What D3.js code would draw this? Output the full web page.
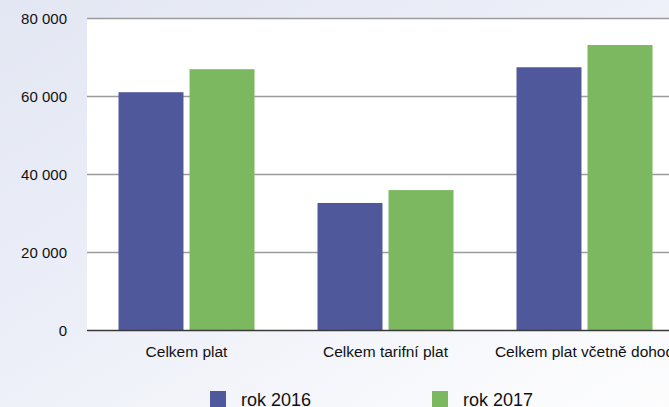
<!DOCTYPE html>
<html>
<head>
<meta charset="utf-8">
<script src="https://cdn.jsdelivr.net/npm/d3@7"></script>
<style>
  html, body { margin: 0; padding: 0; overflow: hidden; }
  body { width: 669px; height: 407px; }
</style>
</head>
<body>
<div id="wrapper"></div>
<script>
const categories = ["Celkem plat", "Celkem tarifní plat", "Celkem plat včetně dohod"];
const seriesNames = ["rok 2016", "rok 2017"];
const values2016 = [61100, 32700, 67500];
const values2017 = [67000, 36000, 73200];
const yTicks = [0, 20000, 40000, 60000, 80000];

const SERIES_COLORS = ["#50589c", "#7bb85f"];
const FONT = "'Liberation Sans', Arial, sans-serif";

const width = 669;
const height = 407;

const dimensions = {
    plotLeft: 87,
    plotTop: 18.5,
    plotBottom: 330.5,
    step: 199,
};

const svg = d3.select("#wrapper")
    .append("svg")
    .attr("width", width)
    .attr("height", height);

// background
const defs = svg.append("defs");
const grad = defs.append("linearGradient")
    .attr("id", "bg")
    .attr("x1", "0%").attr("y1", "0%")
    .attr("x2", "100%").attr("y2", "100%");
grad.append("stop").attr("offset", "0%").attr("stop-color", "#e3e7f3");
grad.append("stop").attr("offset", "45%").attr("stop-color", "#eceff8");
grad.append("stop").attr("offset", "80%").attr("stop-color", "#f8f9fc");
grad.append("stop").attr("offset", "100%").attr("stop-color", "#fdfdfe");

svg.append("rect")
    .attr("width", width)
    .attr("height", height)
    .attr("fill", "url(#bg)");

const x0 = d3.scaleBand()
    .domain(categories)
    .range([dimensions.plotLeft, dimensions.plotLeft + dimensions.step * categories.length])
    .padding(0);

const x1 = d3.scaleBand()
    .domain(seriesNames)
    .range([31.5, 167.5])
    .paddingInner(0.085);

const y = d3.scaleLinear()
    .domain([0, 80000])
    .range([dimensions.plotBottom, dimensions.plotTop]);

// plot area
svg.append("rect")
    .attr("x", dimensions.plotLeft)
    .attr("y", dimensions.plotTop)
    .attr("width", width - dimensions.plotLeft)
    .attr("height", dimensions.plotBottom - dimensions.plotTop)
    .attr("fill", "#ffffff");

// gridlines
svg.append("g")
    .selectAll("line")
    .data(yTicks.filter(d => d > 0))
    .enter().append("line")
    .attr("x1", dimensions.plotLeft)
    .attr("x2", width)
    .attr("y1", d => y(d))
    .attr("y2", d => y(d))
    .attr("stroke", "#9c9c9c")
    .attr("stroke-width", 1.5);

// y labels
const fmt = d => d3.format(",")(d).replace(/,/g, " ");
svg.append("g")
    .selectAll("text")
    .data(yTicks)
    .enter().append("text")
    .attr("x", 67)
    .attr("y", d => y(d))
    .attr("dy", "0.36em")
    .attr("text-anchor", "end")
    .attr("font-family", FONT)
    .attr("font-size", "15px")
    .attr("fill", "#111")
    .text(fmt);

// bars
const table = categories.map((c, i) => ({
    category: c,
    values: [
        { series: seriesNames[0], value: values2016[i] },
        { series: seriesNames[1], value: values2017[i] },
    ],
}));

const groups = svg.append("g")
    .selectAll("g")
    .data(table)
    .enter().append("g")
    .attr("transform", d => `translate(${x0(d.category)},0)`);

groups.selectAll("rect")
    .data(d => d.values)
    .enter().append("rect")
    .attr("x", d => x1(d.series))
    .attr("width", x1.bandwidth())
    .attr("y", d => y(d.value))
    .attr("height", d => y(0) - y(d.value))
    .attr("fill", (d, i) => SERIES_COLORS[i]);

// x axis line
svg.append("line")
    .attr("x1", dimensions.plotLeft)
    .attr("x2", width)
    .attr("y1", y(0))
    .attr("y2", y(0))
    .attr("stroke", "#3a3a3a")
    .attr("stroke-width", 1.5);

// category labels
svg.append("g")
    .selectAll("text")
    .data(categories)
    .enter().append("text")
    .attr("x", d => x0(d) + x0.bandwidth() / 2)
    .attr("y", 357)
    .attr("text-anchor", "middle")
    .attr("font-family", FONT)
    .attr("font-size", "15.5px")
    .attr("fill", "#111")
    .text(d => d);

// legend
const legendX = [210, 432];
const legend = svg.append("g")
    .selectAll("g")
    .data(seriesNames)
    .enter().append("g")
    .attr("transform", (d, i) => `translate(${legendX[i]},391)`);

legend.append("rect")
    .attr("width", 16)
    .attr("height", 16)
    .attr("fill", (d, i) => SERIES_COLORS[i]);

legend.append("text")
    .attr("x", 31)
    .attr("y", 15)
    .attr("font-family", FONT)
    .attr("font-size", "18px")
    .attr("fill", "#111")
    .text(d => d);
</script>
</body>
</html>
